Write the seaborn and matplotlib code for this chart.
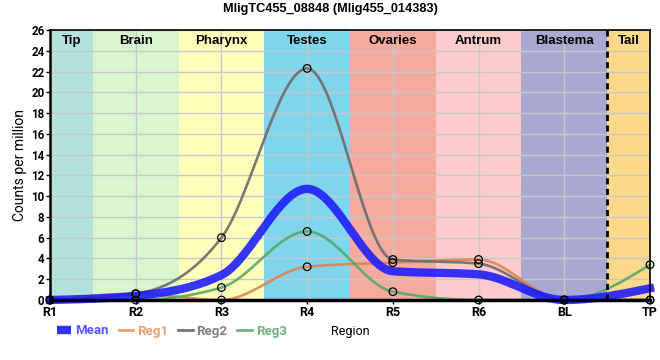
import numpy as np
import pandas as pd
import matplotlib
matplotlib.use("Agg")
import matplotlib.pyplot as plt
from matplotlib.lines import Line2D
import seaborn as sns

# ---- data ----
regions = ["R1", "R2", "R3", "R4", "R5", "R6", "BL", "TP"]
reg1 = [0.0, 0.6, 0.0, 3.2, 3.6, 3.9, 0.0, 0.0]
reg2 = [0.0, 0.6, 6.0, 22.3, 3.9, 3.5, 0.0, 0.0]
reg3 = [0.0, 0.0, 1.2, 6.6, 0.8, 0.0, 0.0, 3.4]
mean = [0.0, 0.4, 2.4, 10.7, 2.77, 2.47, 0.0, 1.13]

band_names = ["Tip", "Brain", "Pharynx", "Testes", "Ovaries", "Antrum", "Blastema", "Tail"]
band_edges = [0, 0.5, 1.5, 2.5, 3.5, 4.5, 5.5, 6.5, 7]
band_colors = ["#b3e2dd", "#d9f5d0", "#ffffbb", "#80d4ec", "#f4aa9c", "#fccbcb", "#a9a8d0", "#fdd98a"]

title = "MligTC455_08848 (Mlig455_014383)"


def smooth(y, n=40):
    # monotone cubic (d3 curveMonotoneX style) for unit spacing
    y = np.asarray(y, float)
    k = len(y)
    s = np.diff(y)
    m = np.zeros(k)
    for i in range(1, k - 1):
        s0, s1 = s[i - 1], s[i]
        p = (s0 + s1) / 2
        m[i] = (np.sign(s0) + np.sign(s1)) * min(abs(s0), abs(s1), 0.5 * abs(p))
    m[0] = (3 * s[0] - m[1]) / 2
    m[-1] = (3 * s[-1] - m[-2]) / 2
    xs, ys = [], []
    for i in range(k - 1):
        t = np.linspace(0, 1, n, endpoint=(i == k - 2))
        h00 = 2 * t**3 - 3 * t**2 + 1
        h10 = t**3 - 2 * t**2 + t
        h01 = -2 * t**3 + 3 * t**2
        h11 = t**3 - t**2
        xs.append(i + t)
        ys.append(h00 * y[i] + h10 * m[i] + h01 * y[i + 1] + h11 * m[i + 1])
    return np.concatenate(xs), np.concatenate(ys)


fig = plt.figure(figsize=(6.6, 3.6), dpi=100)
ax = fig.add_axes([50 / 660, 1 - 300 / 360, 600 / 660, 270 / 360])

for i, (nm, c) in enumerate(zip(band_names, band_colors)):
    ax.axvspan(band_edges[i], band_edges[i + 1], color=c, zorder=0.1, lw=0)
    ax.text((band_edges[i] + band_edges[i + 1]) / 2, 0.958, nm, transform=ax.get_xaxis_transform(),
            ha="center", va="center", fontsize=9.5, fontweight="bold", family="Liberation Sans", zorder=5)

ax.set_axisbelow(True)
ax.grid(True, color="#c8c8c8", lw=1)

series = [("Reg1", reg1, "#dd8452", 1.9), ("Reg2", reg2, "#6b6b6b", 1.9), ("Reg3", reg3, "#55a868", 1.9)]
for name, vals, col, lw in series:
    xs, ys = smooth(vals)
    df = pd.DataFrame({"x": xs, "y": ys})
    sns.lineplot(data=df, x="x", y="y", ax=ax, color=col, lw=lw, alpha=0.9, zorder=3, clip_on=False)

xs, ys = smooth(mean)
sns.lineplot(data=pd.DataFrame({"x": xs, "y": ys}), x="x", y="y", ax=ax, color="#1a1aff", lw=6,
             alpha=0.88, zorder=3.5, clip_on=False)

for name, vals, col, lw in series:
    sns.scatterplot(x=np.arange(len(vals)), y=vals, ax=ax, marker="o", s=30, facecolor="none",
                    edgecolor="black", linewidth=0.9, zorder=6, clip_on=False)

ax.axvline(6.5, color="black", lw=2, ls=(0, (2.2, 1.6)), zorder=4)

ax.set_xlim(0, 7)
ax.set_ylim(0, 26)
ax.set_xticks(range(len(regions)))
ax.set_xticklabels(regions, fontsize=9, fontweight="bold", family="Roboto")
ax.set_yticks(range(0, 27, 2))
ax.set_yticklabels([str(v) for v in range(0, 27, 2)], fontsize=8.3, family="Roboto", fontweight="bold")
ax.tick_params(axis="both", length=3, width=1, color="black", pad=1)
ax.set_xlabel("")
ax.set_ylabel("Counts per million", fontsize=10, family="Roboto", labelpad=3)
for s in ["top", "right"]:
    ax.spines[s].set_linewidth(1.2)
    ax.spines[s].set_color("black")
ax.spines["left"].set_linewidth(1.8)
ax.spines["bottom"].set_linewidth(2.5)
for s in ax.spines.values():
    s.set_zorder(7)

fig.text(330 / 660, 1 - 9 / 360, title, ha="center", va="center", fontsize=9.2, fontweight="bold",
         family="Liberation Sans")
fig.text(350 / 660, 1 - 331 / 360, "Region", ha="center", va="center", fontsize=9, family="Roboto")

handles = [Line2D([], [], color="#3333ff", lw=6, solid_capstyle="butt"),
           Line2D([], [], color="#e8a070", lw=2),
           Line2D([], [], color="#777777", lw=2),
           Line2D([], [], color="#6db37f", lw=2)]
labels = ["Mean", "Reg1", "Reg2", "Reg3"]
text_cols = ["#5555ff", "#e8a070", "#808080", "#6db37f"]
leg = fig.legend(handles, labels, loc="center left", bbox_to_anchor=(45 / 660, 1 - 331 / 360), ncol=4,
                 frameon=False, handlelength=1.1, handletextpad=0.3, columnspacing=0.75,
                 prop={"family": "Roboto", "size": 9.5, "weight": "bold"})
for t, c in zip(leg.get_texts(), text_cols):
    t.set_color(c)

fig.savefig("out.png", dpi=100)
